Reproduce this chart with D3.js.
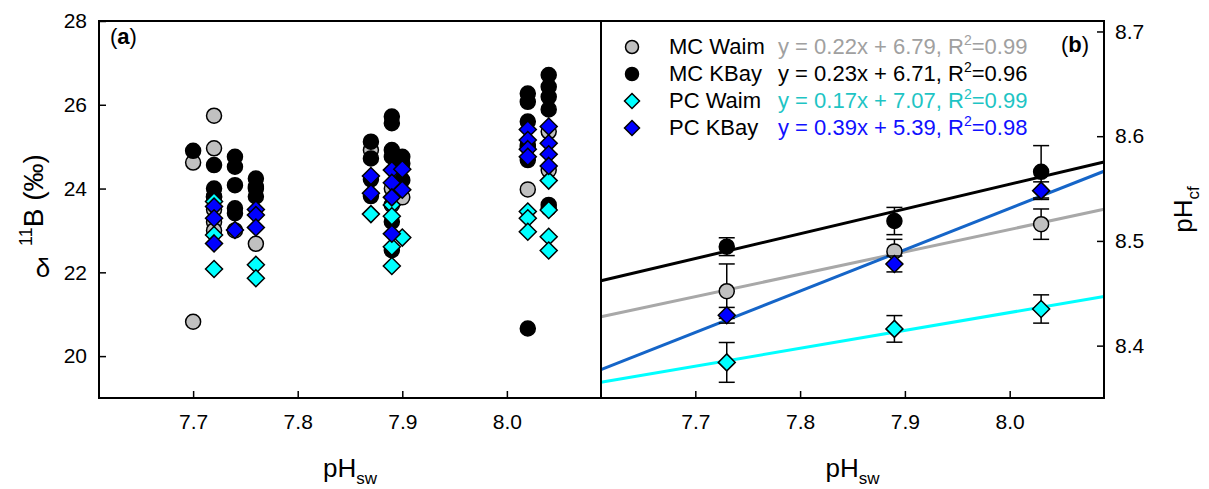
<!DOCTYPE html>
<html lang="en">
<head>
  <meta charset="UTF-8">
  <title>d11B and pHcf vs pHsw</title>
  <style>
    body { margin: 0; background: #fff; font-family: Arial, "Liberation Sans", sans-serif; }
    svg { display: block; }
    .tick text { font-family: Arial, "Liberation Sans", sans-serif; font-size: 21px; fill: #000; }
    .tick line { stroke: #000; stroke-width: 1.5; }
  </style>
</head>
<body>
  <svg width="1209" height="489"></svg>
  <script src="https://d3js.org/d3.v7.min.js"></script>
  <script>
    // panel (a): [pHsw, d11B]
    const mcWaimA = [[7.70, 24.62], [7.70, 20.82], [7.72, 25.74], [7.72, 24.96], [7.72, 23.8], [7.72, 23.5],
      [7.72, 23.2], [7.72, 23.0], [7.74, 23.0], [7.76, 24.04], [7.76, 22.68], [7.87, 24.92], [7.89, 23.61],
      [7.89, 24.0], [7.90, 23.79], [8.02, 23.98], [8.02, 25.0], [8.04, 25.36], [8.04, 24.44], [8.04, 23.53]];
    const mcKBayA = [[7.70, 24.90], [7.72, 24.56], [7.72, 24.0], [7.72, 23.8], [7.74, 24.76], [7.74, 24.52],
      [7.74, 24.08], [7.74, 23.53], [7.74, 23.41], [7.76, 24.24], [7.76, 24.0], [7.76, 23.81], [7.87, 25.12],
      [7.87, 24.72], [7.87, 24.22], [7.87, 23.82], [7.89, 25.72], [7.89, 25.56], [7.89, 24.92], [7.89, 24.76],
      [7.89, 23.21], [7.89, 22.53], [7.90, 24.76], [7.90, 24.60], [7.90, 24.20], [8.02, 26.27], [8.02, 26.07],
      [8.02, 25.60], [8.02, 25.04], [8.02, 24.68], [8.02, 20.66], [8.04, 26.71], [8.04, 26.43], [8.04, 26.19],
      [8.04, 25.89], [8.04, 23.61]];
    const pcWaimA = [[7.72, 23.69], [7.72, 22.89], [7.72, 22.08], [7.76, 22.18], [7.76, 21.86], [7.87, 23.39],
      [7.89, 23.61], [7.89, 23.34], [7.89, 22.61], [7.89, 22.15], [7.90, 22.83], [8.02, 23.45], [8.02, 23.29],
      [8.02, 22.97], [8.04, 24.19], [8.04, 23.49], [8.04, 22.85], [8.04, 22.52]];
    const pcKBayA = [[7.72, 23.57], [7.72, 23.29], [7.72, 22.69], [7.74, 23.01], [7.76, 23.50], [7.76, 23.37],
      [7.76, 23.07], [7.87, 24.30], [7.87, 23.89], [7.89, 24.44], [7.89, 24.14], [7.89, 23.79], [7.89, 22.92],
      [7.90, 24.46], [7.90, 23.97], [8.02, 25.41], [8.02, 25.16], [8.02, 24.94], [8.02, 24.76], [8.04, 25.48],
      [8.04, 25.08], [8.04, 24.82], [8.04, 24.54]];

    // panel (b): treatment means and errors
    const pHswB = [7.73, 7.89, 8.03];
    const mcWaimB = [8.452, 8.490, 8.516];
    const mcWaimErr = [0.026, 0.0115, 0.0145];
    const mcKBayB = [8.4945, 8.519, 8.566];
    const mcKBayErr = [0.0085, 0.013, 0.025];
    const pcWaimB = [8.384, 8.416, 8.435];
    const pcWaimErr = [0.019, 0.0127, 0.0135];
    const pcKBayB = [8.429, 8.478, 8.548];
    const pcKBayErr = [0.0075, 0.0076, 0.0084];

    const seriesNames = ["MC Waim", "MC KBay", "PC Waim", "PC KBay"];
    const equations = ["y = 0.22x + 6.79, R", "y = 0.23x + 6.71, R", "y = 0.17x + 7.07, R", "y = 0.39x + 5.39, R"];
    const r2 = ["=0.99", "=0.96", "=0.99", "=0.98"];
    const xTicks = [7.7, 7.8, 7.9, 8.0];
    const yTicksA = [20, 22, 24, 26, 28];
    const yTicksB = [8.4, 8.5, 8.6, 8.7];

    const styles = [
      { shape: "circle", fill: "#c0c0c0", line: "#a8a8a8", text: "#a0a0a0" },
      { shape: "circle", fill: "#000000", line: "#000000", text: "#000000" },
      { shape: "diamond", fill: "#00ffff", line: "#00ffff", text: "#1ec4c4" },
      { shape: "diamond", fill: "#0000ff", line: "#1565c8", text: "#1010ff" }
    ];

    const svg = d3.select("svg");
    const plotTop = 21, plotBottom = 398;
    const aLeft = 99, mid = 601, bRight = 1104;

    const xA = d3.scaleLinear().domain([7.61, 8.09]).range([aLeft, mid]);
    const xB = d3.scaleLinear().domain([7.61, 8.09]).range([mid, bRight]);
    const yA = d3.scaleLinear().domain([19, 28]).range([plotBottom, plotTop]);
    const yB = d3.scaleLinear().domain([8.35, 8.71]).range([plotBottom, plotTop]);

    function marker(sel, shape, size) {
      if (shape === "circle") {
        sel.append("circle").attr("r", size);
      } else {
        const s = size + 1;
        sel.append("path").attr("d", `M0,${-s}L${s},0L0,${s}L${-s},0Z`);
      }
    }

    // axes
    svg.append("g").attr("transform", `translate(${aLeft},0)`)
      .call(d3.axisLeft(yA).tickValues(yTicksA).tickSizeInner(-7).tickSizeOuter(0).tickPadding(12).tickFormat(d3.format("d")))
      .call(g => g.select(".domain").remove());
    svg.append("g").attr("transform", `translate(0,${plotBottom})`)
      .call(d3.axisBottom(xA).tickValues(xTicks).tickSizeInner(-7).tickSizeOuter(0).tickPadding(16).tickFormat(d3.format(".1f")))
      .call(g => g.select(".domain").remove());
    svg.append("g").attr("transform", `translate(0,${plotBottom})`)
      .call(d3.axisBottom(xB).tickValues(xTicks).tickSizeInner(-7).tickSizeOuter(0).tickPadding(16).tickFormat(d3.format(".1f")))
      .call(g => g.select(".domain").remove());
    svg.append("g").attr("transform", `translate(${bRight},0)`)
      .call(d3.axisRight(yB).tickValues(yTicksB).tickSizeInner(-7).tickSizeOuter(0).tickPadding(11).tickFormat(d3.format(".1f")))
      .call(g => g.select(".domain").remove());
    svg.selectAll(".tick text").attr("font-family", null).attr("font-size", null);

    // panel (a) points
    const gA = svg.append("g");
    [mcWaimA, mcKBayA, pcWaimA, pcKBayA].forEach((data, i) => {
      data.forEach(d => {
        const g = gA.append("g")
          .attr("transform", `translate(${xA(d[0])},${yA(d[1])})`)
          .attr("fill", styles[i].fill).attr("stroke", "#000").attr("stroke-width", 1.5);
        marker(g, styles[i].shape, 7.5);
      });
    });

    // panel (b) regression lines
    const means = [mcWaimB, mcKBayB, pcWaimB, pcKBayB];
    const errs = [mcWaimErr, mcKBayErr, pcWaimErr, pcKBayErr];
    const gB = svg.append("g");
    means.forEach((m, i) => {
      const mx = d3.mean(pHswB), my = d3.mean(m);
      const sxy = d3.sum(pHswB, (x, k) => (x - mx) * (m[k] - my));
      const sxx = d3.sum(pHswB, x => (x - mx) ** 2);
      const slope = sxy / sxx, icpt = my - slope * mx;
      const xd = xB.domain();
      gB.append("line")
        .attr("x1", xB(xd[0])).attr("y1", yB(icpt + slope * xd[0]))
        .attr("x2", xB(xd[1])).attr("y2", yB(icpt + slope * xd[1]))
        .attr("stroke", styles[i].line).attr("stroke-width", 3);
    });
    means.forEach((m, i) => {
      m.forEach((v, k) => {
        const cx = xB(pHswB[k]);
        const y1 = yB(v + errs[i][k]), y2 = yB(v - errs[i][k]);
        const eb = gB.append("g").attr("stroke", "#000").attr("stroke-width", 1.5);
        eb.append("line").attr("x1", cx).attr("x2", cx).attr("y1", y1).attr("y2", y2);
        eb.append("line").attr("x1", cx - 8).attr("x2", cx + 8).attr("y1", y1).attr("y2", y1);
        eb.append("line").attr("x1", cx - 8).attr("x2", cx + 8).attr("y1", y2).attr("y2", y2);
        const g = gB.append("g")
          .attr("transform", `translate(${cx},${yB(v)})`)
          .attr("fill", styles[i].fill).attr("stroke", "#000").attr("stroke-width", 1.5);
        marker(g, styles[i].shape, 7.5);
      });
    });

    // frames
    svg.append("rect").attr("x", aLeft).attr("y", plotTop).attr("width", mid - aLeft).attr("height", plotBottom - plotTop)
      .attr("fill", "none").attr("stroke", "#000").attr("stroke-width", 2);
    svg.append("rect").attr("x", mid).attr("y", plotTop).attr("width", bRight - mid).attr("height", plotBottom - plotTop)
      .attr("fill", "none").attr("stroke", "#000").attr("stroke-width", 2);

    // legend
    const leg = svg.append("g");
    seriesNames.forEach((name, i) => {
      const yy = 47 + i * 27;
      const g = leg.append("g").attr("transform", `translate(632,${yy})`)
        .attr("fill", styles[i].fill).attr("stroke", "#000").attr("stroke-width", 1.5);
      marker(g, styles[i].shape, 6.5);
      leg.append("text").attr("x", 669).attr("y", yy + 7).attr("font-size", 22).text(name);
      const t = leg.append("text").attr("x", 778).attr("y", yy + 7).attr("font-size", 22).attr("fill", styles[i].text);
      t.append("tspan").text(equations[i]);
      t.append("tspan").attr("font-size", 14).attr("dy", -9).text("2");
      t.append("tspan").attr("dy", 9).text(r2[i]);
    });

    // panel labels
    const la = svg.append("text").attr("x", 110).attr("y", 44).attr("font-size", 22);
    la.append("tspan").text("(");
    la.append("tspan").attr("font-weight", "bold").text("a");
    la.append("tspan").text(")");
    const lb = svg.append("text").attr("x", 1061).attr("y", 52).attr("font-size", 22);
    lb.append("tspan").text("(");
    lb.append("tspan").attr("font-weight", "bold").text("b");
    lb.append("tspan").text(")");

    // axis titles
    [xA, xB].forEach(sc => {
      const r = sc.range();
      const t = svg.append("text").attr("x", (r[0] + r[1]) / 2).attr("y", 477)
        .attr("text-anchor", "middle").attr("font-size", 26);
      t.append("tspan").text("pH");
      t.append("tspan").attr("font-size", 17).attr("dy", 7).text("sw");
    });
    const yl = svg.append("text").attr("transform", "translate(43,200) rotate(-90)")
      .attr("text-anchor", "middle").attr("font-size", 28);
    yl.append("tspan").attr("font-size", 18).attr("dy", -11).text("11");
    yl.append("tspan").attr("dy", 11).text("B (‰)");
    svg.append("text").attr("x", 43).attr("y", 277)
      .attr("text-anchor", "middle").attr("font-size", 26).text("δ");
    const yr = svg.append("text").attr("transform", `translate(1192,${(plotTop + plotBottom) / 2}) rotate(-90)`)
      .attr("text-anchor", "middle").attr("font-size", 26);
    yr.append("tspan").text("pH");
    yr.append("tspan").attr("font-size", 17).attr("dy", 7).text("cf");
  </script>
</body>
</html>
